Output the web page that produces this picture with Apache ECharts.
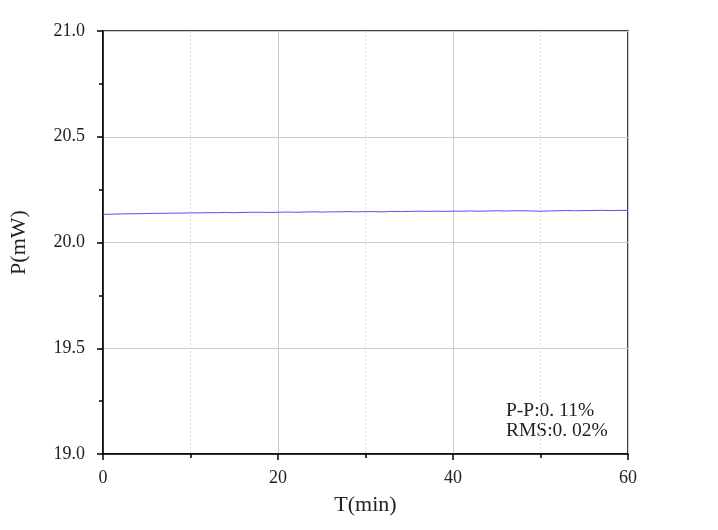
<!DOCTYPE html>
<html><head><meta charset="utf-8">
<script src="https://cdn.jsdelivr.net/npm/echarts@6/dist/echarts.min.js"></script>
<style>html,body{margin:0;padding:0;background:#fff}#c{width:718px;height:530px}</style>
</head><body><div id="c"></div>
<script>
const timeMin = [0,1,2,3,4,5,6,7,8,9,10,11,12,13,14,15,16,17,18,19,20,21,22,23,24,25,26,27,28,29,30,31,32,33,34,35,36,37,38,39,40,41,42,43,44,45,46,47,48,49,50,51,52,53,54,55,56,57,58,59,60];
const powerMW = [20.133,20.134,20.135,20.136,20.136,20.137,20.138,20.138,20.139,20.139,20.140,20.140,20.141,20.141,20.142,20.141,20.142,20.143,20.143,20.142,20.143,20.144,20.143,20.144,20.145,20.144,20.145,20.145,20.146,20.145,20.146,20.146,20.145,20.147,20.146,20.147,20.148,20.147,20.148,20.147,20.148,20.148,20.149,20.148,20.149,20.150,20.149,20.150,20.150,20.149,20.148,20.149,20.150,20.151,20.150,20.151,20.151,20.152,20.151,20.152,20.152];
const annotationLines = ['P-P:0. 11%','RMS:0. 02%'];
const xName = 'T(min)', yName = 'P(mW)';

const font = '"Liberation Serif", "DejaVu Serif", serif';
const chart = echarts.init(document.getElementById('c'));
chart.setOption({
  animation:false,
  grid:{left:101,right:90,top:31,bottom:76,show:true,borderColor:'#000',borderWidth:1.5,backgroundColor:'transparent'},
  xAxis:{type:'value',min:0,max:60,interval:20,
    name:xName,nameLocation:'middle',nameGap:40,nameTextStyle:{fontFamily:font,fontSize:22,color:'#222'},
    axisLine:{lineStyle:{color:'#000',width:1.5}},
    axisTick:{inside:false,length:6,lineStyle:{color:'#000',width:1.5}},
    minorTick:{show:true,splitNumber:2,length:4,lineStyle:{color:'#000',width:1.5}},
    axisLabel:{fontFamily:font,fontSize:18,color:'#222',margin:15},
    splitLine:{show:true,lineStyle:{color:'#cccccc',width:1}},
    minorSplitLine:{show:true,lineStyle:{color:'#dddddd',type:[2,2],width:1}}},
  yAxis:{type:'value',min:19,max:21,interval:0.5,
    name:yName,nameLocation:'middle',nameGap:73,nameRotate:90,nameTextStyle:{fontFamily:font,fontSize:22,color:'#222'},
    axisLine:{lineStyle:{color:'#000',width:1.5}},
    axisTick:{inside:false,length:6,lineStyle:{color:'#000',width:1.5}},
    minorTick:{show:true,splitNumber:2,length:4,lineStyle:{color:'#000',width:1.5}},
    axisLabel:{fontFamily:font,fontSize:18,color:'#222',margin:18,formatter:v=>v.toFixed(1)},
    splitLine:{show:true,lineStyle:{color:'#cccccc',width:1}}},
  series:[{type:'line',data:timeMin.map((t,i)=>[t,powerMW[i]]),showSymbol:false,lineStyle:{color:'#5050ff',width:1}}],
  graphic:[
    {type:'text',x:506,y:411,style:{text:annotationLines[0],font:'19.5px '+font,fill:'#222',textVerticalAlign:'middle'}},
    {type:'text',x:506,y:431,style:{text:annotationLines[1],font:'19.5px '+font,fill:'#222',textVerticalAlign:'middle'}}
  ]
});
</script></body></html>
